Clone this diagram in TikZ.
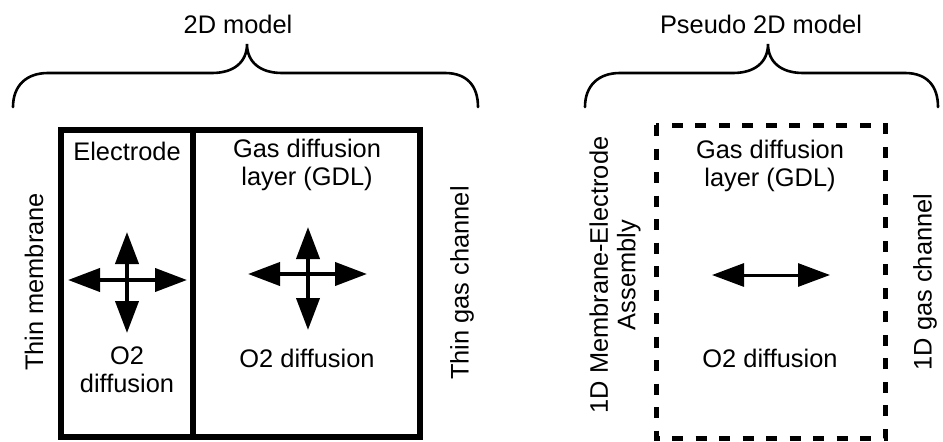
\documentclass[tikz,border=0pt]{standalone}
\usepackage{fontspec}
\setmainfont{Liberation Sans}
\usetikzlibrary{arrows.meta}
\begin{document}
\begin{tikzpicture}[x=1pt,y=-1pt,
  lbl/.style={font=\fontsize{25.4}{27.5}\selectfont, inner sep=0pt, align=center},
  bracepath/.style={line width=2.6pt, line cap=round},
  solidbox/.style={line width=6pt},
  dashbox/.style={line width=5pt, dash pattern=on 11pt off 12.5pt},
  bigarrow/.style={line width=4pt, {Triangle[length=32pt,width=23pt]}-{Triangle[length=32pt,width=23pt]}}
]
\useasboundingbox (0,0) rectangle (943,442);

% braces
\draw[bracepath] (13,107) .. controls (13,86) and (26,73) .. (48,73) -- (212,73)
  .. controls (234,73) and (247,62) .. (247,44)
  .. controls (247,62) and (260,73) .. (282,73) -- (445,73)
  .. controls (467,73) and (478,86) .. (478,107);
\draw[bracepath] (585,107) .. controls (585,86) and (598,73) .. (620,73) -- (733,73)
  .. controls (755,73) and (768,62) .. (768,44)
  .. controls (768,62) and (781,73) .. (803,73) -- (905,73)
  .. controls (927,73) and (938,86) .. (938,107);
\node[lbl, anchor=base] (t2d) at (238,33) {2D model};
\node[lbl, anchor=base] (tp2d) at (761,33) {Pseudo 2D model};

% 2D model box
\draw[solidbox] (61,130) rectangle (420,437);
\draw[solidbox] (193,130) -- (193,437);
\node[lbl, anchor=base] (electrode) at (127,160) {Electrode};
\node[lbl] (gdl) at (307,165) {Gas diffusion\\layer (GDL)};
\node[lbl] (o2a) at (127,370) {O2\\diffusion};
\node[lbl, anchor=base] (o2b) at (307,367) {O2 diffusion};
\node[lbl, rotate=90] (thinmem) at (34,282) {Thin membrane};
\node[lbl, rotate=90] (thingas) at (462,283) {Thin gas channel};

% crosses
\coordinate (aW) at (68,280);  \coordinate (aE) at (187,280);
\coordinate (aN) at (127,232); \coordinate (aS) at (127,333);
\draw[bigarrow] (aW) -- (aE);
\draw[bigarrow] (aN) -- (aS);
\coordinate (bW) at (248,274); \coordinate (bE) at (367,274);
\coordinate (bN) at (308,227); \coordinate (bS) at (308,330);
\draw[bigarrow] (bW) -- (bE);
\draw[bigarrow] (bN) -- (bS);

% pseudo 2D box
\draw[dashbox] (656,125) rectangle (885,438);
\node[lbl] (gdl2) at (770,166) {Gas diffusion\\layer (GDL)};
\node[lbl, anchor=base] (o2c) at (770,367) {O2 diffusion};
\node[lbl, rotate=90] (mea) at (615,275) {1D Membrane-Electrode\\Assembly};
\node[lbl, rotate=90] (gas1d) at (925,282) {1D gas channel};
\coordinate (cW) at (712,275); \coordinate (cE) at (830,275);
\draw[bigarrow, line width=3pt] (cW) -- (cE);
\end{tikzpicture}
\end{document}
